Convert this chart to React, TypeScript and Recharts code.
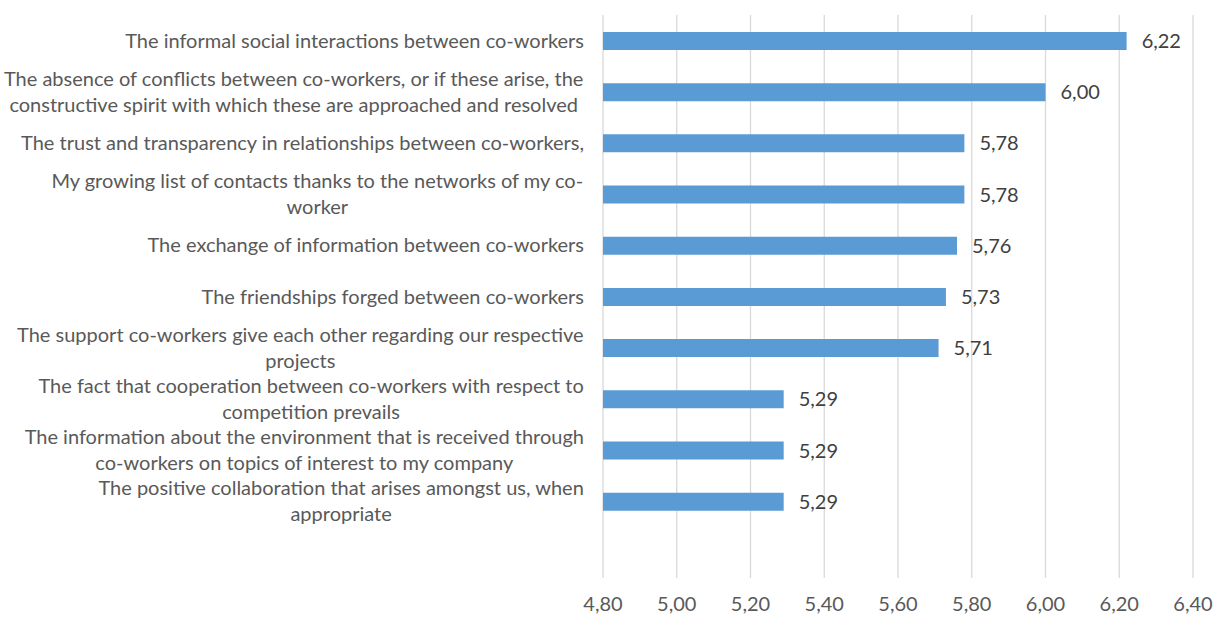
import React from 'react';
import { BarChart, Bar, XAxis, YAxis, CartesianGrid, LabelList } from 'recharts';

const categories: string[] = [
  'The informal social interactions between co-workers',
  'The absence of conflicts between co-workers, or if these arise, the\nconstructive spirit with which these are approached and resolved',
  'The trust and transparency in relationships between co-workers,',
  'My growing list of contacts thanks to the networks of my co-\nworker',
  'The exchange of information between co-workers',
  'The friendships forged between co-workers',
  'The support co-workers give each other regarding our respective\nprojects',
  'The fact that cooperation between co-workers with respect to\ncompetition prevails',
  'The information about the environment that is received through\nco-workers on topics of interest to my company',
  'The positive collaboration that arises amongst us, when\nappropriate',
  '',
];

const values: (number | null)[] = [6.22, 6.0, 5.78, 5.78, 5.76, 5.73, 5.71, 5.29, 5.29, 5.29, null];

const xTicks: number[] = [4.8, 5.0, 5.2, 5.4, 5.6, 5.8, 6.0, 6.2, 6.4];

const data = categories.map((c, i) => ({ name: c, value: values[i] }));

const FONT = "Lato, 'Noto Sans', sans-serif";
const FS = 20;
const LINE_H = 26;

let ctx: CanvasRenderingContext2D | null = null;
function measure(t: string): number {
  if (!ctx) {
    const c = document.createElement('canvas');
    ctx = c.getContext('2d');
  }
  if (!ctx) return t.length * FS * 0.45;
  ctx.font = `${FS}px ${FONT}`;
  return ctx.measureText(t).width;
}

const fmt = (v: any) => (v === null || v === undefined || v === '' ? '' : Number(v).toFixed(2).replace('.', ','));

const CategoryTick = (props: any) => {
  const { x, y, payload } = props;
  const text: string = payload.value || '';
  if (!text) return null;
  const lines = text.split('\n');
  if (lines.length === 1) {
    return (
      <text x={x} y={y} dy="0.35em" textAnchor="end" fill="#595959" fontSize={FS} fontFamily={FONT}>
        {text}
      </text>
    );
  }
  const maxW = Math.max(...lines.map(measure));
  const cx = x - maxW / 2;
  const startY = y - ((lines.length - 1) * LINE_H) / 2;
  return (
    <g>
      {lines.map((l, i) => (
        <text key={i} x={cx} y={startY + i * LINE_H} dy="0.35em" textAnchor="middle" fill="#595959" fontSize={FS} fontFamily={FONT}>
          {l}
        </text>
      ))}
    </g>
  );
};

export default function App() {
  return (
    <div style={{ position: 'absolute', left: 0, top: 0, background: '#fff' }}>
      <BarChart
        width={1214}
        height={617}
        data={data}
        layout="vertical"
        margin={{ top: 15, right: 21, bottom: 0, left: 0 }}
        barCategoryGap="32%"
      >
        <CartesianGrid horizontal={false} vertical={true} stroke="#D9D9D9" strokeWidth={1.3} />
        <XAxis
          type="number"
          domain={[4.8, 6.4]}
          ticks={xTicks}
          allowDataOverflow
          axisLine={false}
          tickLine={false}
          tickMargin={13}
          height={39}
          tickFormatter={fmt}
          tick={{ fill: '#595959', fontSize: FS, fontFamily: FONT }}
        />
        <YAxis
          type="category"
          dataKey="name"
          width={603}
          axisLine={false}
          tickLine={false}
          tickMargin={13}
          interval={0}
          tick={<CategoryTick />}
        />
        <Bar dataKey="value" fill="#5B9BD5" barSize={18} isAnimationActive={false}>
          <LabelList dataKey="value" position="right" offset={15} fill="#404040" fontSize={FS} fontFamily={FONT} formatter={fmt} />
        </Bar>
      </BarChart>
    </div>
  );
}
